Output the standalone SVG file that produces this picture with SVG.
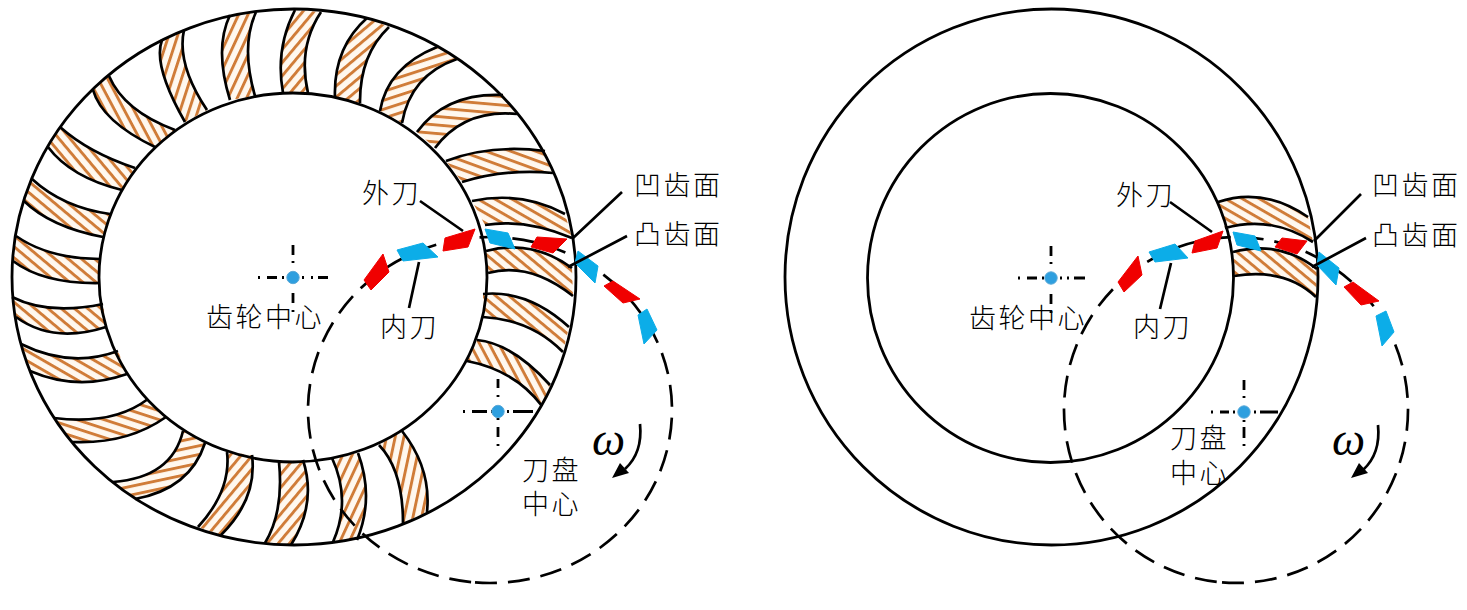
<svg xmlns="http://www.w3.org/2000/svg" width="1467" height="610" viewBox="0 0 1467 610">
<style>
.t{stroke:none}
.e,.c,.l,.x,.d{fill:none;stroke:#000}
.e{stroke-width:2.7}
.c{stroke-width:2.8}
.d{stroke-width:2.7;stroke-dasharray:22 11}
.l{stroke-width:2.7}
.x{stroke-width:2.8}
.r{fill:#f00000;stroke:#f00000;stroke-width:1;stroke-linejoin:round}
.b{fill:#0cade8;stroke:#0cade8;stroke-width:1;stroke-linejoin:round}
.o{fill:#2e9fdf;stroke:#5aa9d8;stroke-width:1}
.a{fill:#000;stroke:none}
text{font-family:"Liberation Serif","Noto Sans CJK SC",serif;font-size:27px;font-weight:300;fill:#000;letter-spacing:2.5px}
.w{font-family:"Liberation Serif",serif;font-style:italic;font-size:47px;letter-spacing:0}
</style>
<defs>
<pattern id="hb" patternUnits="userSpaceOnUse" width="8.5" height="8.5"><rect width="8.5" height="8.5" fill="#fff8ef"/><rect width="8.5" height="2.9" fill="#d07c38"/></pattern>
<pattern id="a65" href="#hb" patternTransform="rotate(-65)"/>
<pattern id="a70" href="#hb" patternTransform="rotate(-72)"/>
<pattern id="a50" href="#hb" patternTransform="rotate(-50)"/>
<pattern id="a40" href="#hb" patternTransform="rotate(-40)"/>
<pattern id="a20" href="#hb" patternTransform="rotate(-18)"/>
<pattern id="m5" href="#hb" patternTransform="rotate(5)"/>
<pattern id="m20" href="#hb" patternTransform="rotate(20)"/>
<pattern id="m30" href="#hb" patternTransform="rotate(30)"/>
<pattern id="m40" href="#hb" patternTransform="rotate(40)"/>
<pattern id="m50" href="#hb" patternTransform="rotate(50)"/>
<pattern id="m60" href="#hb" patternTransform="rotate(62)"/>
<pattern id="a15" href="#hb" patternTransform="rotate(-12)"/>
<pattern id="m15" href="#hb" patternTransform="rotate(18)"/>
<pattern id="a78" href="#hb" patternTransform="rotate(-78)"/>
</defs>

<g id="left-teeth-fill" class="t">
<path fill="url(#a65)" d="M230,15Q214,48.500 230,100L255,96Q240.500,46 256,12Z"/>
<path fill="url(#a70)" d="M162,40Q152.500,65 185,122L207,110Q176.500,64 184,30Z"/>
<path fill="url(#m60)" d="M93,90Q102,121.500 155,147L175,130Q124,111 109,76Z"/>
<path fill="url(#m50)" d="M48,147Q71,177.500 122,190L135,168Q88.500,152.500 60,127Z"/>
<path fill="url(#m40)" d="M24,201Q50.500,227 103,237L110,214Q63,207.500 32,179Z"/>
<path fill="url(#m40)" d="M13,261Q43.500,284 100,283L100,259Q48,258.500 16,236Z"/>
<path fill="url(#a50)" d="M295,10Q275,48.500 283,93L308,93Q297.500,47.500 321,12Z"/>
<path fill="url(#a40)" d="M367,18Q333,48 335,98L360,103Q359.500,55 389,27Z"/>
<path fill="url(#a20)" d="M437,47Q387.500,67 380,111L402,123Q410.500,75 457,59Z"/>
<path fill="url(#m5)" d="M503,95Q446,92.500 417,132L435,148Q464,109 517,114Z"/>
<path fill="url(#m20)" d="M545,151Q490.500,144 446,161L462,182Q506.500,168.500 553,173Z"/>
<path fill="url(#m30)" d="M565,214Q521.500,190.500 472,201L485,225Q525.500,218.500 572,238Z"/>
<path fill="url(#m40)" d="M572,268Q531,238.500 486,251L488,273Q529.500,261.500 573,296Z"/>
<path fill="url(#m40)" d="M569,327Q528,289.500 483,294L483,317Q531,319.500 563,352Z"/>
<path fill="url(#m60)" d="M550,385Q512.500,343.500 477,340L467,361Q515.500,370.500 542,406Z"/>
<path fill="url(#a78)" d="M403,523Q403,470 379,445L402,431Q431.500,468.500 427,512Z"/>
<path fill="url(#a65)" d="M333,542Q351.500,500 332,458L358,453Q374.500,497.500 357,540Z"/>
<path fill="url(#a50)" d="M265,543Q284,511.500 279,462L303,460Q317,503.500 291,545Z"/>
<path fill="url(#a50)" d="M198,527Q231.500,490.500 227,452L252,455Q257.500,499 221,535Z"/>
<path fill="url(#a15)" d="M113,482Q172,477.500 183,431L205,443Q190,489 135,499Z"/>
<path fill="url(#m15)" d="M54,418Q113,425.500 148,399L166,417Q127,444.500 72,442Z"/>
<path fill="url(#m30)" d="M21,344Q70.500,368.500 118,351L127,374Q77.500,391.500 30,371Z"/>
<path fill="url(#m40)" d="M12,297Q48.500,315.500 103,304L106,327Q53,344 16,317Z"/>
</g>
<g id="left-teeth-edges">
<path class="e" d="M230,15Q214,48.500 230,100M256,12Q240.500,46 255,96M162,40Q152.500,65 185,122M184,30Q176.500,64 207,110M93,90Q102,121.500 155,147M109,76Q124,111 175,130M48,147Q71,177.500 122,190M60,127Q88.500,152.500 135,168M24,201Q50.500,227 103,237M32,179Q63,207.500 110,214M13,261Q43.500,284 100,283M16,236Q48,258.500 100,259"/>
<path class="e" d="M295,10Q275,48.500 283,93M321,12Q297.500,47.500 308,93M367,18Q333,48 335,98M389,27Q359.500,55 360,103M437,47Q387.500,67 380,111M457,59Q410.500,75 402,123M503,95Q446,92.500 417,132M517,114Q464,109 435,148M545,151Q490.500,144 446,161M553,173Q506.500,168.500 462,182M565,214Q521.500,190.500 472,201M572,238Q525.500,218.500 485,225"/>
<path class="e" d="M572,268Q531,238.500 486,251M573,296Q529.500,261.500 488,273M569,327Q528,289.500 483,294M563,352Q531,319.500 483,317M550,385Q512.500,343.500 477,340M542,406Q515.500,370.500 467,361M403,523Q403,470 379,445M427,512Q431.500,468.500 402,431M333,542Q351.500,500 332,458M357,540Q374.500,497.500 358,453"/>
<path class="e" d="M265,543Q284,511.500 279,462M291,545Q317,503.500 303,460M198,527Q231.500,490.500 227,452M221,535Q257.500,499 252,455M113,482Q172,477.500 183,431M135,499Q190,489 205,443M54,418Q113,425.500 148,399M72,442Q127,444.500 166,417M21,344Q70.500,368.500 118,351M30,371Q77.500,391.500 127,374M12,297Q48.500,315.500 103,304M16,317Q53,344 106,327"/>
</g>
<g id="right-teeth">
<path class="t" fill="url(#m30)" d="M1308,217Q1263,186.500 1218,202L1225,228Q1271,215 1313,242Z"/>
<path class="t" fill="url(#m40)" d="M1317,269Q1279,239.500 1233,252L1234,276Q1285,267.500 1316,297Z"/>
<path class="e" d="M1308,217Q1263,186.500 1218,202M1313,242Q1271,215 1225,228M1317,269Q1279,239.500 1233,252M1316,297Q1285,267.500 1234,276"/>
</g>

<g id="left-gear">
<ellipse class="c" cx="294" cy="277" rx="282" ry="268"/>
<ellipse class="c" cx="293" cy="277.500" rx="194" ry="184.500"/>
</g>
<g id="right-gear">
<ellipse class="c" cx="1051.500" cy="277" rx="266.500" ry="268"/>
<ellipse class="c" cx="1050.500" cy="278" rx="183" ry="184.500"/>
</g>

<g id="cutter-paths">
<path class="d" d="M475,582.400A182 173 0 0 0 672,410A182 173 0 0 0 490,237A182 173 0 0 0 308,410A182 173 0 0 0 475,582.400"/>
<path class="d" d="M1222,582.400A172 173 0 0 0 1408,410A172 173 0 0 0 1236,237A172 173 0 0 0 1064,410A172 173 0 0 0 1222,582.400"/>
</g>

<g id="left-blades">
<path class="r" d="M383,254L389,272L371,290L364,280Z"/>
<path class="b" d="M397,250L423,243L438,257L403,261Z"/>
<path class="r" d="M445,238L475,229L468,247L443,251Z"/>
<path class="b" d="M485,229L508,233L515,249L490,243Z"/>
<path class="r" d="M537,237L567,239L553,253L531,247Z"/>
<path class="b" d="M578,251L598,266L595,283L575,263Z"/>
<path class="r" d="M613,281L640,299L623,303L604,286Z"/>
<path class="b" d="M647,309L657,330L644,344L638,315Z"/>
</g>
<g id="right-blades">
<path class="r" d="M1138,256L1142,275L1124,292L1118,282Z"/>
<path class="b" d="M1149,252L1175,244L1188,258L1155,262Z"/>
<path class="r" d="M1195,241L1223,231L1217,248L1192,253Z"/>
<path class="b" d="M1233,232L1255,236L1261,251L1237,245Z"/>
<path class="r" d="M1282,238L1307,241L1297,254L1275,247Z"/>
<path class="b" d="M1319,252L1339,268L1336,285L1317,265Z"/>
<path class="r" d="M1353,282L1379,301L1361,305L1344,287Z"/>
<path class="b" d="M1386,311L1394,332L1382,346L1376,316Z"/>
</g>

<g id="leaders">
<path class="l" d="M420,201L463,231M419,262L409,308M622,192L572,239M627,236L568,267"/>
<path class="l" d="M1170,202L1212,232M1171,263L1160,309M1361,194L1314,241M1366,238L1312,267"/>
</g>

<g id="center-marks">
<path id="gear-center-left" class="x" d="M258,277.500h2M267,277.500h10M282,277.500h2M302,277.500h2M311,277.500h2M318,277.500h10M293,245v10M293,261v2M293,293v10M293,310v2"/>
<circle class="o" cx="293" cy="277.500" r="6.200"/>
<path id="cutter-center-left" class="x" d="M463,411.500h2M472,411.500h15M491,411.500h2M507,411.500h2M513,411.500h20M498,379v9M498,395v2M498,418v2M498,427v10M498,444v2"/>
<circle class="o" cx="498" cy="411.500" r="6.200"/>
<path id="gear-center-right" class="x" d="M1018,278h2M1027,278h10M1042,278h2M1060,278h2M1067,278h2M1074,278h11M1051,246v10M1051,262v2M1051,294v10M1051,311v2"/>
<circle class="o" cx="1051" cy="278" r="6.200"/>
<path id="cutter-center-right" class="x" d="M1211,412h2M1220,412h9M1233,412h2M1254,412h2M1260,412h18M1244,380v10M1244,396v2M1244,420v2M1244,427v11M1244,444v2"/>
<circle class="o" cx="1244" cy="412" r="6.200"/>
</g>

<g id="rotation-arrows">
<path class="l" d="M640,424C642,444 637,458 625,469"/>
<path class="a" d="M612,478L620,463L629,473Z"/>
<path class="l" d="M1378,425C1380,445 1375,459 1363,470"/>
<path class="a" d="M1351,478L1359,463L1368,473Z"/>
</g>

<g id="labels">
<text x="634" y="195">凹齿面</text>
<text x="634" y="244">凸齿面</text>
<text x="362" y="203">外刀</text>
<text x="380" y="337">内刀</text>
<text x="206" y="327">齿轮中心</text>
<text x="522" y="480">刀盘</text>
<text x="522" y="514">中心</text>
<text class="w" x="592" y="455">ω</text>
<text x="1372" y="195">凹齿面</text>
<text x="1372" y="245">凸齿面</text>
<text x="1116" y="205">外刀</text>
<text x="1133" y="337">内刀</text>
<text x="969" y="328">齿轮中心</text>
<text x="1170" y="448">刀盘</text>
<text x="1170" y="483">中心</text>
<text class="w" x="1332" y="455">ω</text>
</g>
</svg>
